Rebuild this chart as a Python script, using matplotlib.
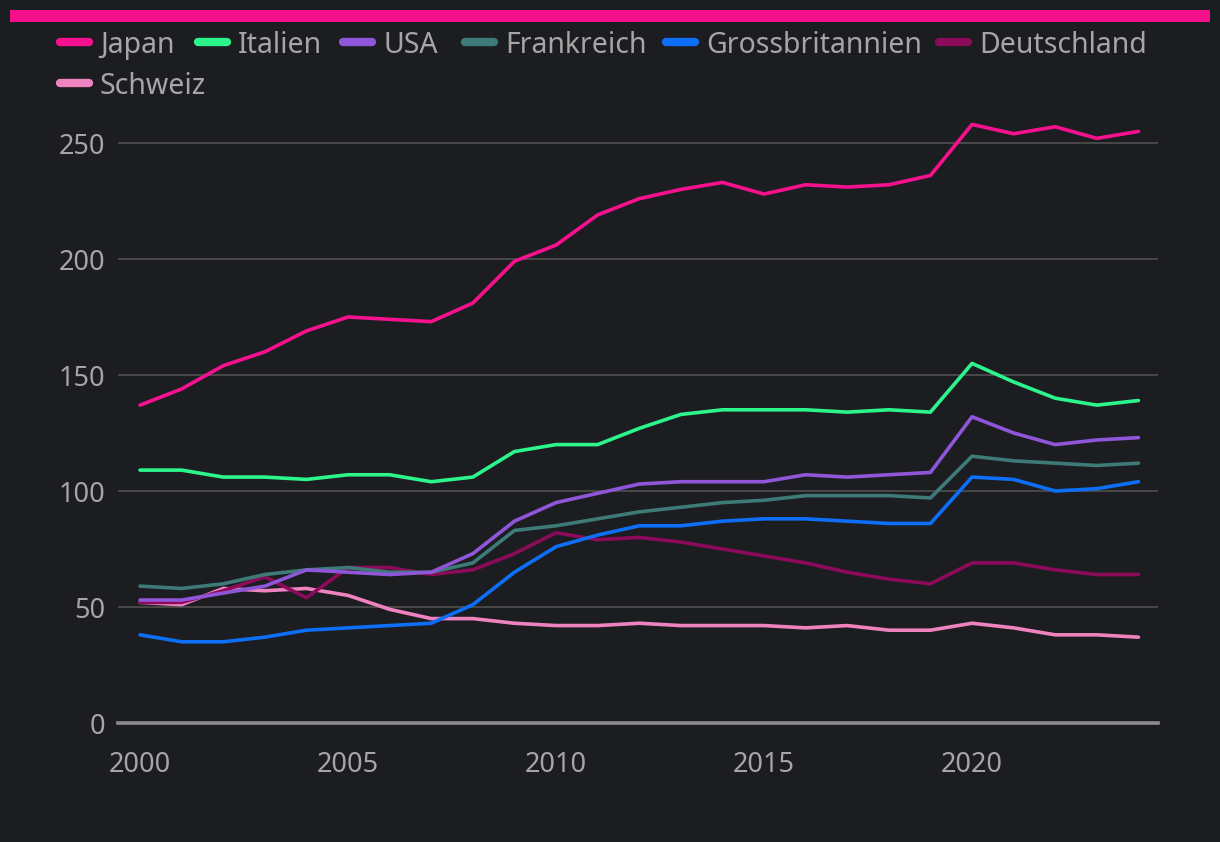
import numpy as np
import matplotlib
matplotlib.use("Agg")
import matplotlib.pyplot as plt
from matplotlib.lines import Line2D

# donnees (indice, 2000-2024)
years = list(range(2000, 2025))
japan = [137, 144, 154, 160, 169, 175, 174, 173, 181, 199, 206, 219, 226,
         230, 233, 228, 232, 231, 232, 236, 258, 254, 257, 252, 255]
italien = [109, 109, 106, 106, 105, 107, 107, 104, 106, 117, 120, 120, 127,
           133, 135, 135, 135, 134, 135, 134, 155, 147, 140, 137, 139]
usa = [53, 53, 56, 59, 66, 65, 64, 65, 73, 87, 95, 99, 103,
       104, 104, 104, 107, 106, 107, 108, 132, 125, 120, 122, 123]
frankreich = [59, 58, 60, 64, 66, 67, 65, 65, 69, 83, 85, 88, 91,
              93, 95, 96, 98, 98, 98, 97, 115, 113, 112, 111, 112]
grossbritannien = [38, 35, 35, 37, 40, 41, 42, 43, 51, 65, 76, 81, 85,
                   85, 87, 88, 88, 87, 86, 86, 106, 105, 100, 101, 104]
deutschland = [52, 52, 57, 63, 54, 67, 67, 64, 66, 73, 82, 79, 80,
               78, 75, 72, 69, 65, 62, 60, 69, 69, 66, 64, 64]
schweiz = [52, 51, 58, 57, 58, 55, 49, 45, 45, 43, 42, 42, 43,
           42, 42, 42, 41, 42, 40, 40, 43, 41, 38, 38, 37]

series = [
    ("Japan", japan, "#f7118f"),
    ("Italien", italien, "#2cf58c"),
    ("USA", usa, "#8f56d9"),
    ("Frankreich", frankreich, "#3d7a78"),
    ("Grossbritannien", grossbritannien, "#0d6ef7"),
    ("Deutschland", deutschland, "#8c0a5a"),
    ("Schweiz", schweiz, "#ef83bf"),
]

BG = "#1c1d20"
TXT = "#a6a6a6"
W, H = 1220, 842

plt.rcParams["font.family"] = ["Noto Sans", "DejaVu Sans"]

fig = plt.figure(figsize=(W / 100, H / 100), dpi=100, facecolor=BG)
ax = fig.add_axes([118 / W, (H - 723) / H, 1040 / W, (723 - 96.6) / H])
ax.set_facecolor(BG)

# ordre de dessin : Schweiz dessous, Japan dessus
for name, vals, col in reversed(series):
    ax.plot(years, vals, color=col, lw=2.6, solid_capstyle="round",
            solid_joinstyle="round", zorder=3)

ax.set_xlim(1999.47, 2024.47)
ax.set_ylim(0, 270)
ax.set_yticks([0, 50, 100, 150, 200, 250])
ax.set_xticks([2000, 2005, 2010, 2015, 2020])
ax.grid(axis="y", color="#555555", lw=1.1)
ax.set_axisbelow(True)
ax.axhline(0, color="#8c8c8c", lw=2.6, zorder=2, clip_on=False)
for s in ax.spines.values():
    s.set_visible(False)
ax.tick_params(length=0, colors=TXT, labelsize=19.5)
ax.tick_params(axis="y", pad=9)
ax.tick_params(axis="x", pad=20)

# barre rose en haut
fig.add_artist(plt.Rectangle((10 / W, 1 - 22 / H), 1200 / W, 12 / H,
                             transform=fig.transFigure, color="#f50f8c", lw=0))

# legende dessinee a la main (positions en pixels)
legend = [
    ("Japan", 57, 42), ("Italien", 195, 42), ("USA", 340, 42),
    ("Frankreich", 462, 42), ("Grossbritannien", 663, 42),
    ("Deutschland", 936, 42), ("Schweiz", 57, 83),
]
colors = {n: c for n, _, c in series}
for name, x0, y0 in legend:
    fig.add_artist(Line2D([(x0 + 3) / W, (x0 + 32) / W], [1 - y0 / H] * 2,
                          transform=fig.transFigure, color=colors[name],
                          lw=6, solid_capstyle="round"))
    fig.text((x0 + 43) / W, 1 - y0 / H, name, color=TXT, fontsize=20.5,
             va="center_baseline", ha="left")

fig.savefig("out.png", dpi=100, facecolor=BG)
